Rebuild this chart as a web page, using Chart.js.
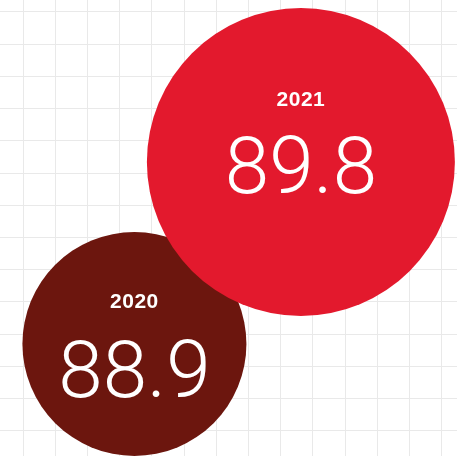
<!DOCTYPE html>
<html lang="en">
<head>
<meta charset="UTF-8">
<title>Bubbles</title>
<style>
  html, body { margin: 0; padding: 0; background: #fff; }
  #wrap { width: 457px; height: 456px; }
</style>
</head>
<body>
<div id="wrap"><canvas id="chart"></canvas></div>

<script src="https://cdn.jsdelivr.net/npm/chart.js"></script>
<script>
// data
const years = ['2020', '2021']
const values = [88.9, 89.8]

// placement of each bubble in grid units, radius in px, label baselines relative to centre
const centerX = [3.46, 8.63]
const centerY = [2.69, 8.34]
const radius = [112, 154]
const yearBase = [-36, -56]
const valueBase = [53, 31]
const colors = ['#6c160e', '#e3192d']

const labelPlugin = {
  id: 'bubbleLabels',
  afterDatasetsDraw(chart) {
    const c = chart.ctx
    const meta = chart.getDatasetMeta(0)
    c.save()
    c.fillStyle = '#fff'
    c.textAlign = 'center'
    c.textBaseline = 'alphabetic'
    meta.data.forEach((pt, i) => {
      c.font = 'bold 21px "Liberation Sans", Arial, sans-serif'
      c.letterSpacing = '0.5px'
      c.fillText(years[i], pt.x, pt.y + yearBase[i])
      c.letterSpacing = '0px'
      c.font = '300 80px Roboto, "Liberation Sans", sans-serif'
      c.fillText(values[i].toFixed(1), pt.x, pt.y + valueBase[i])
    })
    c.restore()
  }
}

const gridAxis = (min, max) => ({
  type: 'linear',
  min: min,
  max: max,
  border: { display: false },
  grid: { color: '#e9e9e9', lineWidth: 1, drawTicks: false },
  ticks: { display: false, stepSize: 1, includeBounds: false }
})

new Chart(document.getElementById('chart'), {
  type: 'bubble',
  data: {
    labels: years,
    datasets: [{
      data: years.map((y, i) => ({ x: centerX[i], y: centerY[i], r: radius[i] })),
      backgroundColor: colors,
      borderWidth: 0,
      hoverBorderWidth: 0,
      clip: false
    }]
  },
  options: {
    responsive: true,
    maintainAspectRatio: false,
    animation: false,
    layout: { padding: 0, autoPadding: false },
    plugins: { legend: { display: false }, tooltip: { enabled: false } },
    scales: {
      x: gridAxis(-23 / 32.2, 434 / 32.2),
      y: gridAxis(-25.4 / 32.2, 430.6 / 32.2)
    }
  },
  plugins: [labelPlugin]
})
</script>
</body>
</html>
